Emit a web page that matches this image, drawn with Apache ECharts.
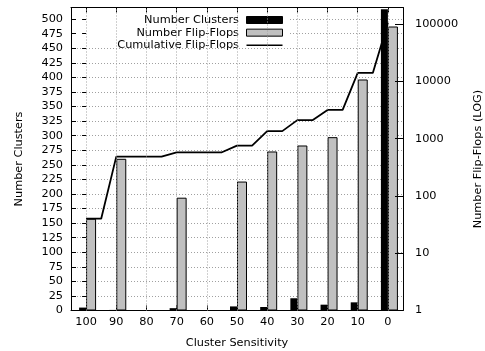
<!DOCTYPE html>
<html>
<head>
<meta charset="utf-8">
<script src="https://cdn.jsdelivr.net/npm/echarts@6/dist/echarts.min.js"></script>
<style>
html,body{margin:0;padding:0;background:#fff;}
#c{width:485px;height:351px;}
</style>
</head>
<body>
<div id="c"></div>
<script>
const categories = ['100','90','80','70','60','50','40','30','20','10','0'];
const numberClusters = [5, 1, 0, 4, 0, 7, 6, 21, 10, 14, 517];
const numberFlipFlops = [40, 444, null, 93, null, 178, 596, 758, 1059, 10750, 90400];
const cumulativeFlipFlops = [40, 484, 484, 577, 577, 755, 1350, 2100, 3170, 14000, 105000];
const leftAxisMax = 520;
const leftAxisStep = 25;
const rightAxisMin = 1;
const rightAxisMax = 194000;

// step-shaped cumulative line: flat over the right half of each category cell, then a ramp to the next
const cumLine = [];
cumulativeFlipFlops.forEach(function (v, i) {
  cumLine.push([i, v]);
  if (i < cumulativeFlipFlops.length - 1) cumLine.push([i + 0.5, v]);
});

const FONT = 'DejaVu Sans';
const FS = 11.3;
const chart = echarts.init(document.getElementById('c'), null, {renderer: 'canvas'});

const gridLineStyle = {color: '#a0a0a0', width: 1, type: [1, 2]};

chart.setOption({
  animation: false,
  textStyle: {fontFamily: FONT, fontSize: FS, color: '#000'},
  grid: {left: 71, right: 82, top: 7.5, bottom: 40.5, containLabel: false, outerBoundsMode: 'none'},
  graphic: [{
    type: 'rect', left: 72, top: 8.5, shape: {width: 217, height: 38.5},
    style: {fill: '#fff'}, z: 1, silent: true
  }],
  legend: {
    orient: 'vertical', align: 'right', right: 202, top: 14, padding: 0,
    itemWidth: 36, itemHeight: 7, itemGap: 0.65,
    textStyle: {fontFamily: FONT, fontSize: FS, color: '#000', lineHeight: 12, padding: [0, 2.5, 0, 0]},
    data: [
      {name: 'Number Clusters', icon: 'rect', itemStyle: {color: '#000', borderColor: '#000', borderWidth: 1}},
      {name: 'Number Flip-Flops', icon: 'rect', itemStyle: {color: '#c0c0c0', borderColor: '#000', borderWidth: 1}},
      {name: 'Cumulative Flip-Flops',
       icon: 'path://M0,0 L0,0 Z M36,7 L36,7 Z M0,2.75 L36,2.75 L36,4.25 L0,4.25 Z',
       itemStyle: {color: '#000', borderWidth: 0}}
    ]
  },
  xAxis: [
    { // main bottom axis
      type: 'category', data: categories, position: 'bottom', z: 3,
      name: 'Cluster Sensitivity', nameLocation: 'middle', nameGap: 27,
      nameTextStyle: {fontFamily: FONT, fontSize: FS, color: '#000'},
      axisLine: {show: true, onZero: false, lineStyle: {color: '#000', width: 1}},
      axisTick: {show: true, inside: true, length: 5, alignWithLabel: true, interval: 0, lineStyle: {color: '#000'}},
      axisLabel: {show: true, margin: 6, interval: 0, color: '#000', fontFamily: FONT, fontSize: FS},
      splitLine: {show: false}
    },
    { // top mirror
      type: 'category', data: categories, position: 'top', z: 3,
      axisLine: {show: true, onZero: false, lineStyle: {color: '#000', width: 1}},
      axisTick: {show: true, inside: true, length: 5, alignWithLabel: true, interval: 0, lineStyle: {color: '#000'}},
      axisLabel: {show: false}, splitLine: {show: false}
    },
    { // value axis for the cumulative line and vertical grid
      type: 'value', min: -0.5, max: 10.5, show: false
    }
  ],
  yAxis: [
    { // left linear
      type: 'value', min: 0, max: leftAxisMax, interval: leftAxisStep, position: 'left', z: 3,
      name: 'Number Clusters', nameLocation: 'middle', nameGap: 46,
      nameTextStyle: {fontFamily: FONT, fontSize: FS, color: '#000'},
      axisLine: {show: true, onZero: false, lineStyle: {color: '#000', width: 1}},
      axisTick: {show: true, inside: true, length: 5, lineStyle: {color: '#000'}},
      axisLabel: {show: true, margin: 8, color: '#000', fontFamily: FONT, fontSize: FS, showMaxLabel: false},
      splitLine: {show: false}
    },
    { // right log
      type: 'log', logBase: 10, min: rightAxisMin, max: rightAxisMax, position: 'right', z: 3,
      name: 'Number Flip-Flops (LOG)', nameLocation: 'middle', nameGap: 70,
      nameTextStyle: {fontFamily: FONT, fontSize: FS, color: '#000'},
      axisLine: {show: true, onZero: false, lineStyle: {color: '#000', width: 1}},
      axisTick: {show: true, inside: true, length: 8, lineStyle: {color: '#000'}},
      axisLabel: {show: true, margin: 12, color: '#000', fontFamily: FONT, fontSize: FS, showMaxLabel: false,
        formatter: function (v) { return String(Math.round(v)); }},
      splitLine: {show: false}
    },
    { // right mirror of left ticks
      type: 'value', min: 0, max: leftAxisMax, interval: leftAxisStep, position: 'right', z: 3,
      axisLine: {show: false},
      axisTick: {show: true, inside: true, length: 4, lineStyle: {color: '#000'}},
      axisLabel: {show: false}, splitLine: {show: false}
    },
    { // horizontal grid lines
      type: 'value', min: 0, max: leftAxisMax, interval: leftAxisStep, position: 'left', z: 0,
      axisLine: {show: false}, axisTick: {show: false}, axisLabel: {show: false},
      splitLine: {show: true, lineStyle: gridLineStyle}
    }
  ],
  series: [
    { // spacer column so the black bar ends at the category centre
      name: '_spacer', type: 'bar', xAxisIndex: 0, yAxisIndex: 0,
      data: categories.map(function () { return 0; }),
      barWidth: 3, barGap: '0%', silent: true, itemStyle: {color: 'rgba(0,0,0,0)'}
    },
    {
      name: 'Number Clusters', type: 'bar', xAxisIndex: 0, yAxisIndex: 0,
      data: numberClusters, barWidth: 7, barGap: '0%',
      itemStyle: {color: '#000', borderColor: '#000', borderWidth: 0}
    },
    {
      name: 'Number Flip-Flops', type: 'bar', xAxisIndex: 0, yAxisIndex: 1,
      data: numberFlipFlops, barWidth: 10, barGap: '0%',
      itemStyle: {color: '#c0c0c0', borderColor: '#000', borderWidth: 1}
    },
    {
      name: 'Cumulative Flip-Flops', type: 'line', xAxisIndex: 2, yAxisIndex: 1,
      data: cumLine, symbol: 'none', showSymbol: false, z: 2,
      lineStyle: {color: '#000', width: 1.8}, itemStyle: {color: '#000'}
    },
    { // vertical grid lines at category centres
      name: '_vgrid', type: 'line', xAxisIndex: 2, yAxisIndex: 0, data: [], z: 0, silent: true,
      markLine: {
        silent: true, symbol: ['none', 'none'], animation: false,
        label: {show: false}, lineStyle: gridLineStyle,
        emphasis: {disabled: true},
        data: categories.map(function (c, i) { return {xAxis: i}; })
      }
    }
  ]
});
</script>
</body>
</html>
